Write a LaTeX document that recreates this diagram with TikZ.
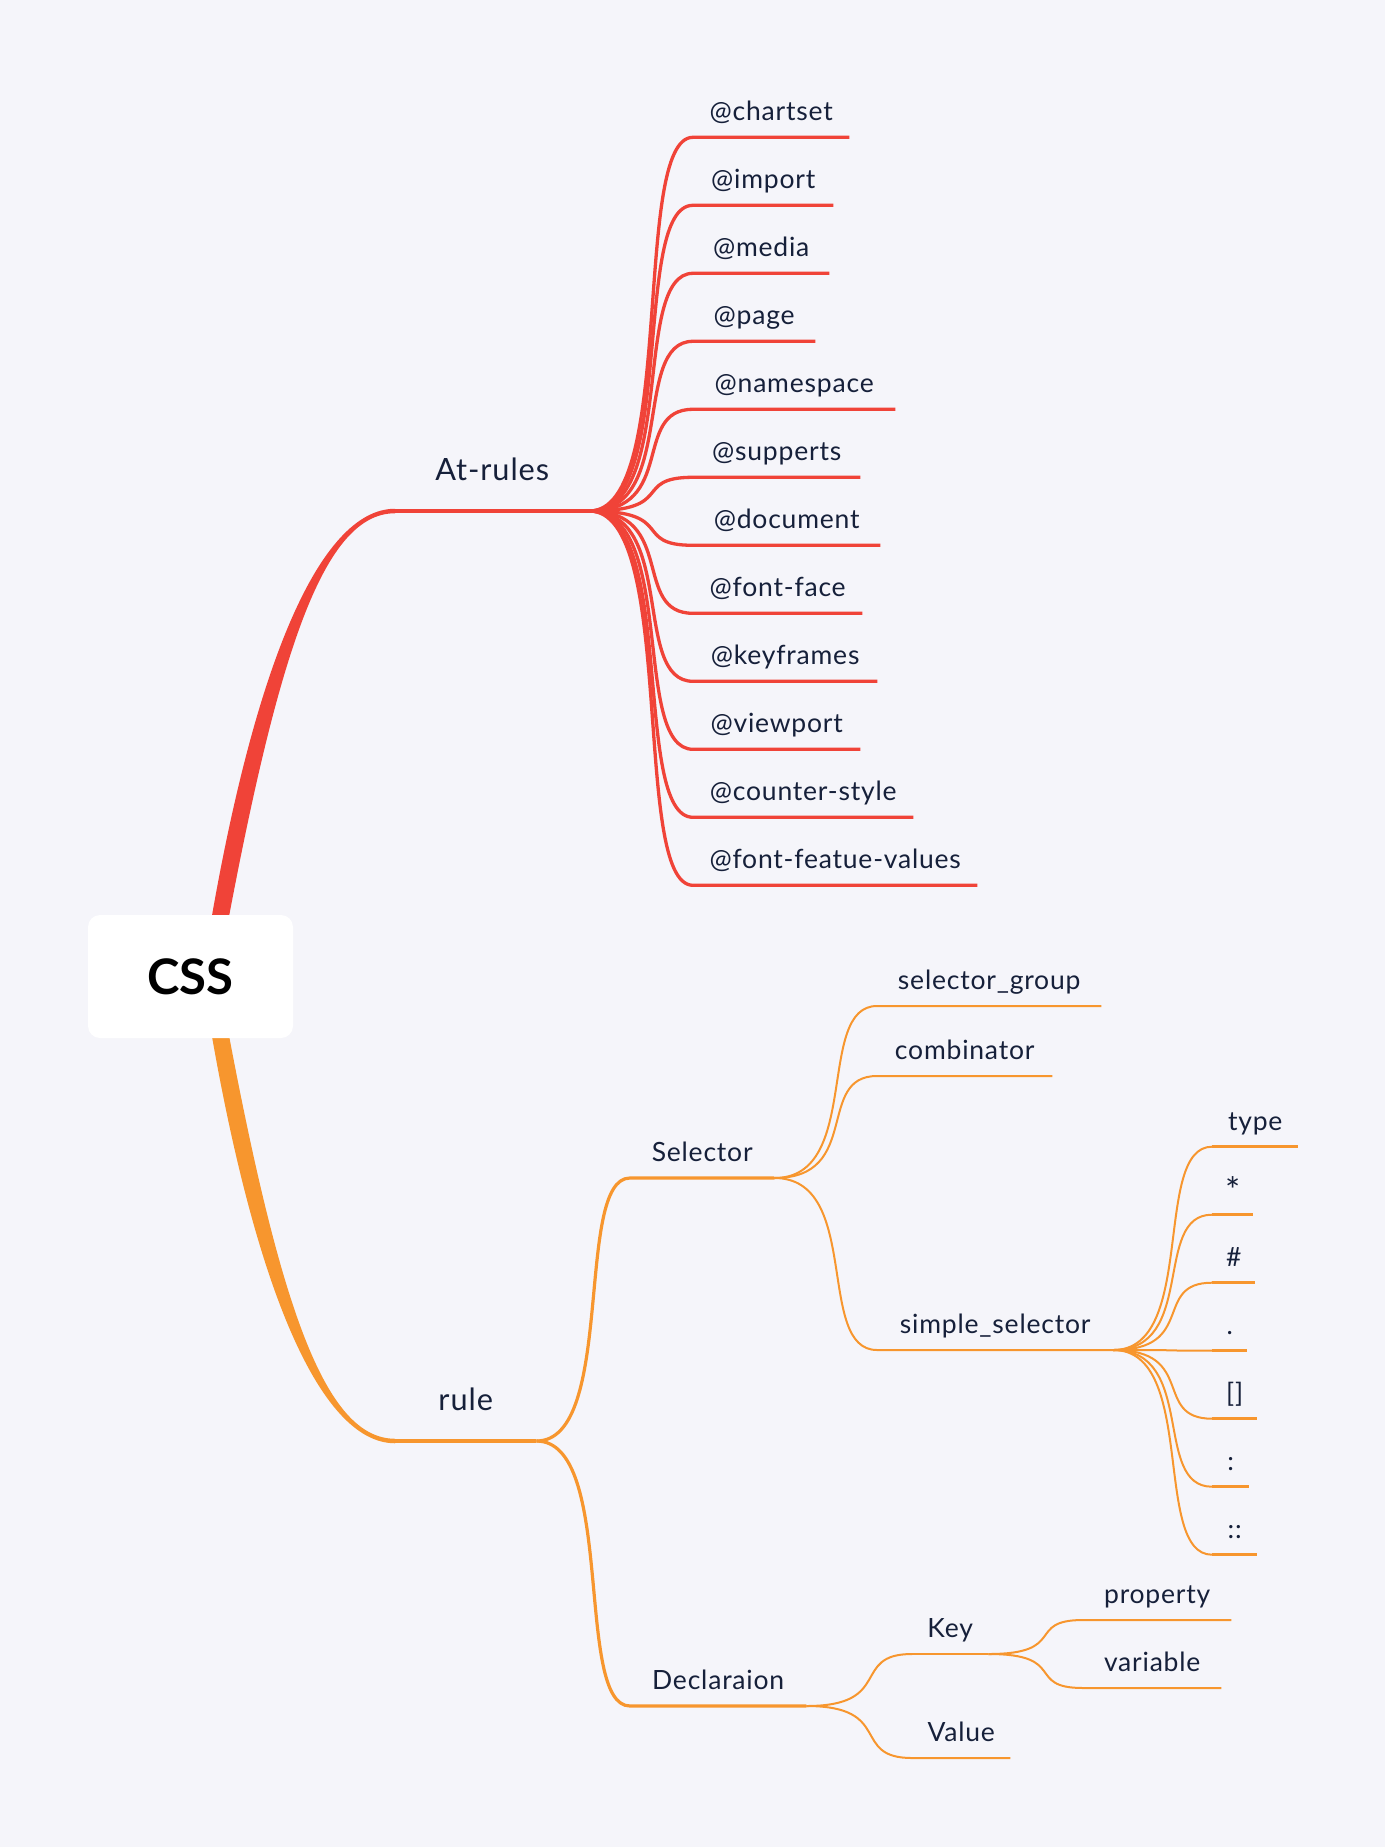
\documentclass[tikz,border=0pt]{standalone}
\usepackage{fontspec}
\setmainfont{Lato}[LetterSpace=3]
\newfontfamily\cssfont{Lato}
\definecolor{bgc}{RGB}{245,245,250}
\definecolor{cred}{RGB}{240,67,56}
\definecolor{corg}{RGB}{247,150,46}
\definecolor{ink}{RGB}{22,32,58}
\begin{document}
\begin{tikzpicture}[x=1pt,y=-1pt,
  lab/.style={font=\fontsize{26.5}{30}\selectfont, text=ink, text depth=0pt,
    inner xsep=0pt, inner ysep=16.5pt, anchor=south west, minimum width=#1},
  lab/.default=100,
  labone/.style={lab=#1, font=\fontsize{30.7}{34}\selectfont, inner ysep=30pt},
  redln/.style={draw=cred, line width=3.3pt},
  orgln/.style={draw=corg, line width=#1},
  orgln/.default=2pt,
  cssbox/.style={fill=white, rounded corners=12pt, minimum width=205, minimum height=123,
    inner sep=0pt, font=\cssfont\fontsize{49}{52}\selectfont\bfseries, text=black}
]
\fill[bgc] (0,0) rectangle (1385,1847);
\useasboundingbox (0,0) rectangle (1385,1847);

\coordinate (hub) at (210,976);
\node[labone=194] (atr) at (395,511) {At-rules};
\node[labone=141] (rule) at (395,1441) {rule};

% main tapered branches
\fill[cred] ([xshift=-8pt]hub) .. controls +(48,-310) and +(-75,0) .. ([yshift=2.25pt]atr.south west)
  -- ([yshift=-2.25pt]atr.south west) .. controls +(-75,0) and +(56,-310) .. ([xshift=8pt]hub) -- cycle;
\fill[corg] ([xshift=-8pt]hub) .. controls +(48,310) and +(-75,0) .. ([yshift=-2.25pt]rule.south west)
  -- ([yshift=2.25pt]rule.south west) .. controls +(-75,0) and +(56,310) .. ([xshift=8pt]hub) -- cycle;
\draw[cred, line width=4.5pt] (atr.south west) -- (atr.south east);
\draw[corg, line width=4.5pt] (rule.south west) -- (rule.south east);

% At-rules children
\foreach \t/\w [count=\i from 0] in {@chartset/156, @import/140, @media/136, @page/122,
  @namespace/202, @supperts/167, @document/187, @font-face/169, @keyframes/184,
  @viewport/167, @counter-style/220, @font-featue-values/284} {
  \node[lab=\w] (r\i) at (693,{137.3+68*\i}) {\t};
  \draw[redln] (atr.south east) .. controls +(88,0) and +(-62,0) .. (r\i.south west) -- (r\i.south east);
}

% rule children
\node[lab=144] (sel) at (630,1178) {Selector};
\node[lab=176] (decl) at (630,1706) {Declaraion};
\draw[orgln=3.2pt] (rule.south east) .. controls +(80,0) and +(-56,0) .. (sel.south west) -- (sel.south east);
\draw[orgln=3.2pt] (rule.south east) .. controls +(80,0) and +(-56,0) .. (decl.south west) -- (decl.south east);

% Selector children
\node[lab=224] (sg) at (877,1006) {selector\_group};
\node[lab=175] (comb) at (877,1076) {combinator};
\node[lab=236] (simp) at (877,1350) {simple\_selector};
\foreach \n in {sg,comb,simp} {
  \draw[orgln] (sel.south east) .. controls +(88,0) and +(-62,0) .. (\n.south west) -- (\n.south east);
}

% simple_selector children
\foreach \t/\w [count=\i from 0] in {type/86, {\raisebox{-5pt}{\scalebox{1.35}{*}}}/41, \#/43, ./35, []/45, :/37, ::/45} {
  \node[lab=\w] (s\i) at (1212,{1146.7+68*\i}) {\t};
  \draw[orgln] (simp.south east) .. controls +(84,0) and +(-60,0) .. (s\i.south west);
  \draw[orgln=3pt] (s\i.south west) -- (s\i.south east);
}

% Declaraion children
\node[lab=76] (key) at (912,1654) {Key};
\node[lab=98] (val) at (912,1758) {Value};
\draw[orgln] (decl.south east) .. controls +(88,0) and +(-62,0) .. (key.south west);
\draw[orgln=2.5pt] (key.south west) -- (key.south east);
\draw[orgln] (decl.south east) .. controls +(88,0) and +(-62,0) .. (val.south west) -- (val.south east);

% Key children
\node[lab=148] (prop) at (1083,1620) {property};
\node[lab=138] (var) at (1083,1688) {variable};
\draw[orgln] (key.south east) .. controls +(80,0) and +(-58,0) .. (prop.south west) -- (prop.south east);
\draw[orgln] (key.south east) .. controls +(80,0) and +(-58,0) .. (var.south west) -- (var.south east);

% root
\node[cssbox] (css) at (190.5,976.5) {CSS};
\end{tikzpicture}
\end{document}
